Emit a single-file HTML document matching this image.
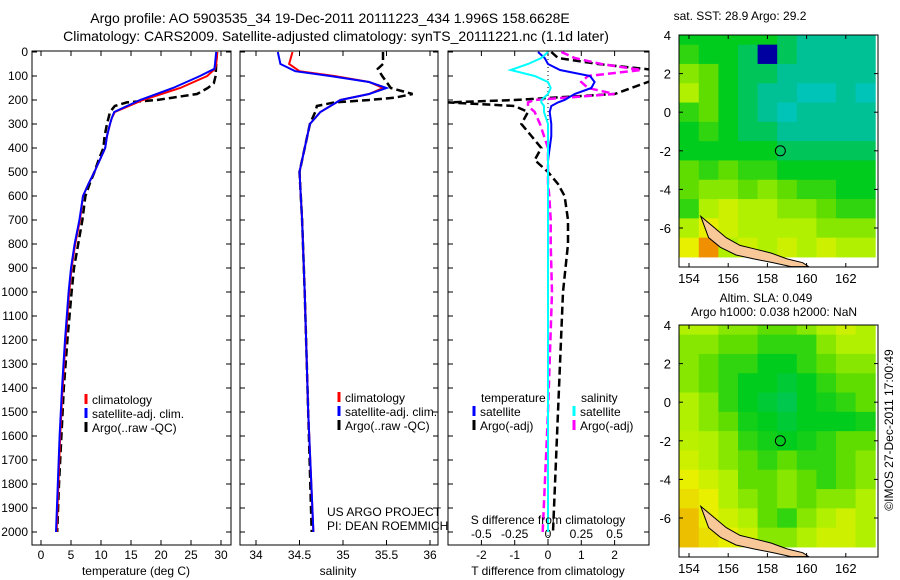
<!DOCTYPE html>
<html><head><meta charset="utf-8">
<style>
body{margin:0;background:#fff;}
svg{display:block;font-family:"Liberation Sans",sans-serif;}
text{fill:#000;}
</style></head>
<body>
<svg id="fig" width="900" height="580" viewBox="0 0 900 580">
<g id="maps"></g>
<g id="plots"></g>
<text x="330" y="23" font-size="14" text-anchor="middle">Argo profile: AO 5903535_34 19-Dec-2011 20111223_434 1.996S 158.6628E</text>
<text x="336" y="41" font-size="14" text-anchor="middle">Climatology: CARS2009. Satellite-adjusted climatology: synTS_20111221.nc (1.1d later)</text>
<text x="740" y="20" font-size="12" text-anchor="middle">sat. SST: 28.9 Argo: 29.2</text>
<text x="766" y="302" font-size="12" text-anchor="middle">Altim. SLA: 0.049</text>
<text x="774" y="316" font-size="12" text-anchor="middle">Argo h1000: 0.038 h2000: NaN</text>
<text transform="translate(893,430) rotate(-90)" font-size="12" text-anchor="middle">©IMOS 27-Dec-2011 17:00:49</text>
<text x="327" y="516" font-size="12">US ARGO PROJECT</text>
<text x="327" y="530" font-size="12">PI: DEAN ROEMMICH</text>
<text x="136" y="575" font-size="12" text-anchor="middle">temperature (deg C)</text>
<text x="338" y="575" font-size="12" text-anchor="middle">salinity</text>
<text x="548" y="575" font-size="12" text-anchor="middle">T difference from climatology</text>
<text x="548" y="524" font-size="12" text-anchor="middle">S difference from climatology</text>
</svg>
<script>
// depth axis data
const depthTicks=[0,100,200,300,400,500,600,700,800,900,1000,1100,1200,1300,1400,1500,1600,1700,1800,1900,2000];
// temperature panel
const tTicks=[0,5,10,15,20,25,30];
const tClimDepth=[0,50,70,100,150,200,250,275,300,350,400,450,500,550,600,700,800,900,1000,1200,1400,1600,1800,2000];
const tClim=[29.4,29.2,29.0,27.7,23.2,17.0,12.3,11.8,11.5,11.0,10.7,9.8,8.9,7.9,7.0,6.5,5.7,5.1,4.7,4.1,3.6,3.2,2.9,2.6];
const tSat=[29.2,29.0,28.9,26.5,22.0,16.5,12.2,11.8,11.5,11.0,10.7,9.8,8.9,7.9,7.0,6.4,5.6,5.0,4.6,4.0,3.5,3.1,2.8,2.5];
const tArgoDepth=[0,50,100,130,150,175,190,200,210,225,250,300,350,400,450,500,550,600,700,800,900,1000,1200,1400,1600,1800,2000];
const tArgo=[29.3,29.2,29.1,28.8,27.8,26.0,22.0,19.3,14.3,12.3,11.5,11.0,10.6,10.4,9.6,8.9,8.1,7.4,6.9,6.2,5.5,5.1,4.4,3.8,3.4,3.0,2.7];
// salinity panel
const sTicks=[34,34.5,35,35.5,36];
const sClimDepth=[0,50,80,100,125,150,175,200,250,300,400,500,700,1000,1500,2000];
const sClim=[34.42,34.38,34.5,34.9,35.3,35.46,35.3,34.97,34.74,34.62,34.56,34.5,34.53,34.56,34.6,34.66];
const sSat=[34.25,34.28,34.45,34.85,35.3,35.5,35.3,34.97,34.74,34.62,34.56,34.5,34.53,34.56,34.6,34.66];
const sArgoDepth=[0,50,70,100,150,175,190,200,210,225,250,300,400,500,700,1000,1500,2000];
const sArgo=[35.46,35.46,35.4,35.45,35.55,35.8,35.6,35.3,34.9,34.7,34.68,34.62,34.56,34.5,34.53,34.56,34.6,34.64];
// difference panel
const dTTicks=[-2,-1,0,1,2];
const dSTicks=[-0.5,-0.25,0,0.25,0.5];
const dSTickLabels=["-0.5","-0.25","0","0.25","0.5"];
const dDepth=[0,25,50,75,100,125,150,175,200,210,225,250,300,350,400,450,500,550,600,700,800,1000,1500,2000];
const dTSat=[-0.3,-0.1,0.0,0.36,1.26,1.4,1.3,0.8,0.5,0.3,0.1,0.05,0.1,0.1,0.05,0.0,0.0,0.0,0.0,0.0,0.0,0.0,0.0,0.0];
const dTArgo=[0.1,0.3,1.5,3.2,3.5,3.0,2.5,2.0,-1.0,-3.0,-1.0,-0.6,-0.8,-0.5,-0.2,-0.4,0.0,0.3,0.5,0.6,0.6,0.45,0.3,0.15];
const dSSat=[0.0,-0.05,-0.15,-0.28,-0.1,0.0,0.02,0.0,-0.05,-0.05,-0.03,-0.03,0.0,0.0,0.0,0.0,0.0,0.0,0.0,0.0,0.0,0.0,0.0,0.0];
const dSArgo=[0.1,0.2,0.4,0.7,0.3,0.25,0.3,0.5,-0.1,-0.15,-0.15,-0.1,-0.06,-0.03,0.0,0.0,0.0,0.0,0.01,0.02,0.02,0.03,0.0,-0.04];
// map data (rows lat 4..-7, cols lon 154..163)
const mapLats=[4,3,2,1,0,-1,-2,-3,-4,-5,-6,-7];
const mapLons=[154,155,156,157,158,159,160,161,162,163];
const sstGrid=[
[0.4,0.4,0.4,0.4,0.4,0.35,0.3,0.3,0.3,0.3],
[0.45,0.4,0.4,0.35,0.1,0.35,0.3,0.3,0.3,0.3],
[0.55,0.5,0.4,0.35,0.35,0.3,0.3,0.3,0.3,0.3],
[0.6,0.5,0.4,0.35,0.3,0.3,0.25,0.25,0.3,0.25],
[0.45,0.5,0.4,0.35,0.3,0.25,0.3,0.3,0.3,0.3],
[0.4,0.45,0.4,0.35,0.35,0.3,0.3,0.3,0.3,0.3],
[0.4,0.4,0.4,0.4,0.4,0.35,0.35,0.35,0.35,0.35],
[0.5,0.45,0.5,0.45,0.45,0.4,0.4,0.4,0.4,0.4],
[0.5,0.55,0.55,0.5,0.55,0.5,0.45,0.45,0.4,0.4],
[0.45,0.6,0.65,0.6,0.6,0.55,0.55,0.5,0.45,0.45],
[0.6,0.7,0.65,0.6,0.6,0.6,0.6,0.55,0.55,0.55],
[0.7,0.8,0.6,0.65,0.6,0.65,0.6,0.65,0.6,0.6]];
const slaGrid=[
[0.6,0.6,0.55,0.55,0.5,0.5,0.55,0.6,0.65,0.6],
[0.55,0.55,0.5,0.5,0.45,0.45,0.45,0.55,0.6,0.6],
[0.55,0.5,0.45,0.45,0.4,0.4,0.45,0.5,0.55,0.55],
[0.55,0.5,0.45,0.4,0.4,0.38,0.4,0.45,0.5,0.5],
[0.6,0.55,0.45,0.4,0.38,0.36,0.4,0.42,0.45,0.5],
[0.6,0.55,0.5,0.42,0.4,0.38,0.4,0.4,0.4,0.42],
[0.62,0.6,0.55,0.45,0.42,0.4,0.42,0.45,0.5,0.5],
[0.65,0.6,0.55,0.5,0.45,0.5,0.45,0.45,0.5,0.55],
[0.7,0.65,0.6,0.5,0.5,0.55,0.5,0.45,0.5,0.55],
[0.72,0.7,0.6,0.55,0.5,0.55,0.5,0.55,0.55,0.6],
[0.75,0.7,0.65,0.6,0.5,0.45,0.55,0.6,0.65,0.6],
[0.75,0.72,0.7,0.65,0.55,0.55,0.6,0.65,0.65,0.6]];
const latTicks=[4,2,0,-2,-4,-6];
const lonTicks=[154,156,158,160,162];
const argoLon=158.66, argoLat=-2.0;
const islandLon=[154.6,155.2,155.9,156.6,157.4,158.2,159.0,159.8,160.1,159.2,158.3,157.3,156.4,155.6,155.0,154.6];
const islandLat=[-5.4,-5.9,-6.5,-6.9,-7.1,-7.3,-7.6,-7.8,-8.0,-8.0,-7.8,-7.6,-7.4,-7.0,-6.5,-5.4];

const NS='http://www.w3.org/2000/svg';
const plots=document.getElementById('plots'), maps=document.getElementById('maps');
function mk(tag,attrs,parent){const e=document.createElementNS(NS,tag);for(const k in attrs)e.setAttribute(k,attrs[k]);parent.appendChild(e);return e;}
const yD=d=>52+d*0.24;
const Y0=51, Y1=545;

function panel(x0,x1,name){
  const f=mk('rect',{x:x0,y:Y0,width:x1-x0,height:Y1-Y0,fill:'#fff',stroke:'#000','stroke-width':1},plots);
  
  
  depthTicks.forEach(d=>{
    mk('line',{x1:x0,x2:x0+5,y1:yD(d),y2:yD(d),stroke:'#000'},plots);
    mk('line',{x1:x1-5,x2:x1,y1:yD(d),y2:yD(d),stroke:'#000'},plots);
  });
}
function xticks(vals,labels,fx,x0,x1,ylab,name,top){
  vals.forEach((v,i)=>{
    const x=fx(v);
    if(top!==false){mk('line',{x1:x,x2:x,y1:Y0,y2:Y0+5,stroke:'#000'},plots);}
    mk('line',{x1:x,x2:x,y1:Y1-5,y2:Y1,stroke:'#000'},plots);
    const t=mk('text',{x:x,y:ylab,'font-size':12,'text-anchor':'middle'},plots);
    t.textContent=labels[i];
    
    
  });
}
function legendEntry(x,y,color,label,dash,name){
  mk('line',{x1:x,x2:x,y1:y-10,y2:y,stroke:color,'stroke-width':3},plots);
  const t=mk('text',{x:x+6,y:y,'font-size':12},plots);
  t.textContent=label;
  
  
}
const defs=mk('defs',{},document.getElementById('fig'));
[['c1',32,231],['c2',240,438],['c3',448,649]].forEach(c=>{const cp=mk('clipPath',{id:c[0]},defs);mk('rect',{x:c[1],y:Y0,width:c[2]-c[1],height:Y1-Y0},cp);});
function lineG(g,depths,vals,fx,color,dash,w,name){
  const pts=depths.map((d,i)=>fx(vals[i]).toFixed(1)+','+yD(d).toFixed(1)).join(' ');
  const p=mk('polyline',{points:pts,fill:'none',stroke:color,'stroke-width':w,'stroke-dasharray':dash||'none'},g);
  
  
}

// panel 1
panel(32,231,'temperature-panel');
depthTicks.forEach(d=>{const t=mk('text',{x:28,y:yD(d)+4,'font-size':12,'text-anchor':'end'},plots);t.textContent=d;

});
const fT=v=>41+v*6;
xticks(tTicks,tTicks.map(String),fT,32,231,559,'temp');
let g1=mk('g',{'clip-path':'url(#c1)'},plots);
lineG(g1,tArgoDepth,tArgo,fT,'#000','8,4',2.5,'temp-argo-line');
lineG(g1,tClimDepth,tClim,fT,'#f00','',2,'temp-climatology-line');
lineG(g1,tClimDepth,tSat,fT,'#00f','',2,'temp-satellite-line');
legendEntry(86,404,'#f00','climatology','','temp-legend-climatology');
legendEntry(86,418,'#00f','satellite-adj. clim.','','temp-legend-satellite');
legendEntry(86,432,'#000','Argo(..raw -QC)','','temp-legend-argo');

// panel 2
panel(240,438,'salinity-panel');
const fS=v=>256+(v-34)*87;
xticks(sTicks,sTicks.map(String),fS,240,438,559,'sal');
let g2=mk('g',{'clip-path':'url(#c2)'},plots);
lineG(g2,sArgoDepth,sArgo,fS,'#000','8,4',2.5,'sal-argo-line');
lineG(g2,sClimDepth,sClim,fS,'#f00','',2,'sal-climatology-line');
lineG(g2,sClimDepth,sSat,fS,'#00f','',2,'sal-satellite-line');
legendEntry(339,402,'#f00','climatology','','sal-legend-climatology');
legendEntry(339,416,'#00f','satellite-adj. clim.','','sal-legend-satellite');
legendEntry(339,430,'#000','Argo(..raw -QC)','','sal-legend-argo');

// panel 3
panel(448,649,'difference-panel');
const fDT=v=>548+v*33.3;
const fDS=v=>548+v*133.3;
xticks(dTTicks,dTTicks.map(String),fDT,448,649,559,'diff-t',false);
dTTicks.forEach(v=>mk('line',{x1:fDT(v),x2:fDT(v),y1:Y0,y2:Y0+5,stroke:'#000'},plots));
dSTicks.forEach((v,i)=>{const t=mk('text',{x:fDS(v),y:538,'font-size':12,'text-anchor':'middle'},plots);t.textContent=dSTickLabels[i];

});
let g3=mk('g',{'clip-path':'url(#c3)'},plots);
mk('line',{x1:fDT(0),x2:fDT(0),y1:Y0,y2:Y1,stroke:'#000','stroke-dasharray':'1,3'},g3);
lineG(g3,dDepth,dTArgo,fDT,'#000','8,4',2.5,'diff-t-argo-line');
lineG(g3,dDepth,dSArgo,fDS,'#f0f','8,4',2.5,'diff-s-argo-line');
lineG(g3,dDepth,dTSat,fDT,'#00f','',2,'diff-t-satellite-line');
lineG(g3,dDepth,dSSat,fDS,'#0ff','',2,'diff-s-satellite-line');
const lt=mk('text',{x:481,y:402,'font-size':12},plots);lt.textContent='temperature';


const ls=mk('text',{x:581,y:402,'font-size':12},plots);ls.textContent='salinity';


legendEntry(474,416,'#00f','satellite','','diff-legend-t-satellite');
legendEntry(474,430,'#000','Argo(-adj)','','diff-legend-t-argo');
legendEntry(574,416,'#0ff','satellite','','diff-legend-s-satellite');
legendEntry(574,430,'#f0f','Argo(-adj)','','diff-legend-s-argo');

// maps
const stops=[[0.1,[0,0,160]],[0.2,[0,200,216]],[0.3,[0,192,150]],[0.4,[0,204,30]],[0.5,[96,221,0]],[0.6,[176,240,0]],[0.7,[232,240,0]],[0.8,[240,144,0]]];
function cmap(v){if(v<=stops[0][0])return 'rgb('+stops[0][1]+')';
 for(let i=1;i<stops.length;i++){if(v<=stops[i][0]){const a=stops[i-1],b=stops[i],t=(v-a[0])/(b[0]-a[0]);
 return 'rgb('+a[1].map((c,j)=>Math.round(c+(b[1][j]-c)*t)).join(',')+')';}}
 return 'rgb('+stops[stops.length-1][1]+')';}
function drawMap(grid,top,name){
  const L=679,R=878,B=top+232;
  const fx=lon=>689+(lon-154)*19.6;
  const fy=lat=>top+(4-lat)*19.3;
  const g=mk('g',{},maps);
  
  
  mapLats.forEach((lat,r)=>mapLons.forEach((lon,c)=>{
    const x0=Math.max(L,fx(lon-0.5)),x1=Math.min(R,fx(lon+0.5)),y0=Math.max(top,fy(lat+0.5)),y1=Math.min(B,fy(lat-0.5));
    mk('rect',{x:x0,y:y0,width:x1-x0+0.5,height:y1-y0+0.5,fill:cmap(grid[r][c])},g);
  }));
  const isl=islandLon.map((lon,i)=>fx(lon).toFixed(1)+','+fy(islandLat[i]).toFixed(1)).join(' ');
  const ip=mk('polygon',{points:isl,fill:'#f8c898',stroke:'#000','stroke-width':1},g);
  
  
  const ac=mk('circle',{cx:fx(argoLon),cy:fy(argoLat),r:5,fill:'none',stroke:'#000'},g);
  
  
  mk('rect',{x:L,y:top,width:R-L,height:B-top,fill:'none',stroke:'#000'},g);
  latTicks.forEach(l=>{mk('line',{x1:L,x2:L+4,y1:fy(l),y2:fy(l),stroke:'#000'},g);mk('line',{x1:R-4,x2:R,y1:fy(l),y2:fy(l),stroke:'#000'},g);
    const t=mk('text',{x:L-8,y:fy(l)+5,'font-size':13,'text-anchor':'end'},g);t.textContent=l;
    
    });
  lonTicks.forEach(l=>{mk('line',{x1:fx(l),x2:fx(l),y1:top,y2:top+4,stroke:'#000'},g);mk('line',{x1:fx(l),x2:fx(l),y1:B-4,y2:B,stroke:'#000'},g);
    const t=mk('text',{x:fx(l),y:B+16,'font-size':13,'text-anchor':'middle'},g);t.textContent=l;
    
    });
}
drawMap(sstGrid,35,'sst-map');
drawMap(slaGrid,325,'sla-map');
</script>
</body></html>
